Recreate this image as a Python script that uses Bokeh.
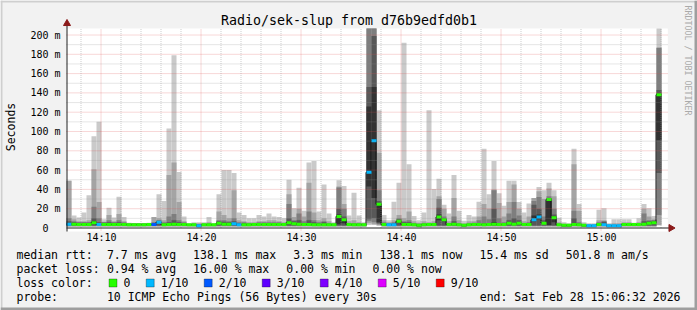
import math
from bokeh.plotting import figure
from bokeh.models import Range1d, Label, BoxAnnotation, ColumnDataSource
from bokeh.core.properties import value
from bokeh.embed import file_html
from bokeh.resources import INLINE

# ---------------- data ----------------
first_step = 6.5        # minutes after 14:00 -> 14:06:30
step_minutes = 0.5      # 30 s step

# sorted ping RTTs (ms) per step, p1 = fastest ... p10 = slowest
p1 = [1.0]*26 + [0.8] + [1.0]*33 + [3, 3, 2] + [1.0]*7 + [0.8] + [1.0]*8 + [0.8] + [1.0]*19 + [0.8, 0.8, 1.0, 1.0, 0.8, 0.8, 0.8, 1.0, 1.0, 0.8, 0.8, 0.8, 1.0, 1.0, 1.0, 1.0, 1.0, 1.0, 1.0, 2.5]
p2 = [1.5]*26 + [1.0] + [1.5]*33 + [5, 4, 3] + [1.5]*7 + [1.0] + [1.5]*8 + [1.0] + [1.5]*19 + [1.0, 1.0, 1.5, 1.5, 1.0, 1.0, 1.0, 1.5, 1.5, 1.0, 1.0, 1.0, 1.5, 1.5, 1.5, 1.5, 1.5, 1.5, 1.5, 3]
p3 = [2.0]*26 + [1.3] + [2.0]*33 + [7, 6, 4] + [2.0]*7 + [1.3] + [2.0]*8 + [1.3] + [2.0]*19 + [1.3, 1.3, 2.0, 2.0, 1.3, 1.3, 1.3, 2.0, 2.0, 1.3, 1.3, 1.3, 2.0, 2.0, 2.0, 2.0, 2.0, 2.0, 2.0, 13.5]
p4 = [2.5]*26 + [1.6] + [2.5]*33 + [9, 10, 5] + [2.5]*7 + [1.6] + [2.5]*8 + [1.6] + [2.5]*19 + [1.6, 1.6, 2.5, 2.5, 1.6, 1.6, 1.6, 2.5, 2.5, 1.6, 1.6, 1.6, 2.5, 2.5, 2.5, 2.5, 2.5, 2.5, 2.5, 57]
p5 = [3.6, 3.6, 3.2, 3.2, 3.2, 5.1, 3.2, 3.2, 3.2, 3.2,
      3.2, 3.1, 3.0, 3.0, 3.0, 3.0, 3.1, 3.1, 5.6, 3.0,
      3.2, 3.6, 3.2, 3.2, 2.9, 3.0, 1.9, 2.9, 2.9, 2.9,
      4.6, 3.6, 3.6, 4.1, 2.9, 2.9, 2.9, 3.1, 3.2, 3.1,
      3.2, 3.1, 3.1, 3.1, 5.1, 4.1, 3.6, 3.1, 3.2, 2.9,
      2.9, 2.9, 2.9, 2.9, 4, 5, 3.1, 2.9, 2.9, 2.9,
      43, 31, 6, 3.1, 2.9, 2.9, 6, 3.2, 3.2, 2.9,
      2.4, 2.9, 3.1, 3.1, 8, 7, 3.1, 3.6, 2.9, 2.4,
      2.9, 3.2, 3.1, 2.9, 3.1, 3.6, 3.1, 3.1, 4.6, 3.6,
      4.6, 3.1, 3.1, 7, 9, 4.6, 3, 6, 2.9, 2.4,
      2.4, 3.2, 2.9, 2.4, 1.9, 1.9, 3.2, 2.9, 1.9, 1.9,
      1.9, 3.1, 3.1, 3.1, 3.1, 3.6, 4.6, 5.1, 91]
p6 = [5, 4.4, 4, 4, 4, 7, 4, 4, 4, 4,
      4, 3.9, 3.8, 3.8, 3.8, 3.8, 3.9, 3.9, 6.4, 3.8,
      4, 4.4, 4, 4, 3.7, 3.8, 2.7, 3.7, 3.7, 3.7,
      5.4, 4.4, 4.4, 4.9, 3.7, 3.7, 3.7, 3.9, 4, 3.9,
      4, 3.9, 3.9, 3.9, 6.5, 4.9, 4.4, 3.9, 4, 3.7,
      3.7, 3.7, 3.7, 3.7, 14, 10, 3.9, 3.7, 3.7, 3.7,
      126, 146, 26, 3.9, 3.7, 3.7, 7.6, 4, 4, 3.7,
      3.2, 3.7, 3.9, 3.9, 14, 9.5, 3.9, 4.4, 3.7, 3.2,
      3.7, 4, 3.9, 3.7, 3.9, 6, 3.9, 3.9, 5.4, 4.4,
      5.5, 3.9, 3.9, 13, 14, 5.4, 30.5, 12, 3.7, 3.2,
      3.2, 4, 3.7, 3.2, 2.7, 2.7, 4, 3.7, 2.7, 2.7,
      2.7, 3.9, 3.9, 3.9, 3.9, 4.4, 5.4, 5.9, 139.5]
p7 = [7, 6, 5.5, 5.5, 5.5, 10, 6, 5.5, 6, 5.5,
      6, 5, 4.3, 4.3, 4.3, 4.3, 4.5, 5, 7.5, 5,
      6, 8, 6, 5, 4, 4.2, 3.5, 4, 4.2, 4,
      7, 6.5, 6, 7, 5, 5, 4.5, 4.5, 5, 4.8,
      5, 4.8, 4.8, 4.8, 10, 7, 8, 5, 8, 6,
      5, 6, 4.5, 4, 20, 12, 4.5, 4.5, 4.5, 4,
      146, 199, 28, 5, 4.5, 5, 9, 6, 6, 4.5,
      4, 4.5, 4.6, 4.6, 21, 10, 4.5, 7, 4, 3.5,
      4, 5, 5, 5, 5, 20, 5, 5, 8, 10,
      8, 4.5, 5, 24, 20, 8, 31, 14, 4, 3.5,
      3.4, 10, 4.5, 3.5, 3, 3, 5, 6.5, 3, 3,
      3, 4.5, 4.5, 4.4, 4.5, 7, 7, 7.5, 143]
p8 = [10, 7, 6, 6, 6, 22, 10, 6, 8, 6,
      8, 6, 4.5, 4.5, 4.5, 4.5, 4.7, 6, 8, 6,
      12, 14.5, 8, 6, 4.2, 4.5, 4, 4.5, 5, 4.2,
      8, 8, 7, 10, 6, 6, 5, 5, 6, 6,
      6, 6, 6, 5, 25, 8, 15, 7, 17, 8,
      6, 7, 5, 4.5, 42, 20, 5, 5, 5, 4.5,
      215, 215, 39, 6, 5, 6, 10, 7, 8, 5,
      4.5, 5, 5, 5, 30, 12, 5, 12, 5, 4,
      5, 5.5, 8, 12, 9, 39, 10, 6, 15, 27,
      13, 5, 6, 28, 32, 12, 33, 20, 4.5, 4,
      3.8, 18, 6, 4, 3.5, 3.5, 6, 7, 3.5, 3.5,
      3.5, 5, 5, 4.6, 5, 15, 8, 8, 186.8]
p9 = [49, 9, 7, 7, 8, 61, 27, 6.5, 13.5, 7,
      14.5, 7, 5, 4.8, 4.8, 4.8, 5, 11.5, 10, 8,
      55, 68, 27, 7, 4.5, 5, 5, 5, 6, 4.5,
      17, 13.5, 10, 39, 8, 7, 6, 6, 7, 7,
      8, 8, 7, 6, 35, 11.5, 20, 12, 47, 16,
      8, 10, 7, 5, 43, 25, 7, 8, 6, 5,
      215, 215, 78, 8, 6, 8, 13.5, 10, 17, 7,
      5.5, 7, 6, 7, 33, 20, 7, 31, 8, 5,
      7, 7, 12, 25, 20, 40, 26, 12, 27, 45,
      20, 7, 12, 31, 38, 30, 41, 33, 6, 4.5,
      4.2, 66, 18, 4.5, 4, 4, 8, 8, 4, 5,
      5, 6, 6, 5, 6, 20, 12, 9, 186.8]
p10 = [49, 13, 11, 16, 34, 95, 110, 9, 21, 11,
       32.5, 11.5, 5.5, 5, 5, 5, 5.5, 11.5, 35, 28,
       103, 179, 58, 12, 5, 6, 6, 6, 11.5, 5,
       35, 60, 60, 57, 16, 13.5, 10, 10, 13.5, 12,
       15, 12, 11.5, 10, 50, 20.5, 41.6, 18, 68, 69.5,
       17, 45, 15, 6, 49.5, 43.5, 13, 36.6, 13, 6,
       215, 215, 122, 13.5, 8, 27.3, 47, 192, 66, 12.5,
       8, 16, 122, 40.5, 51, 24, 15, 55, 18, 7.5,
       13.5, 12, 27.3, 82, 35, 69.5, 36, 23, 49, 49,
       27, 16, 25.4, 31, 42.5, 39, 47, 39, 10.5, 6,
       5, 82, 25, 6, 5, 5, 19, 20.5, 5, 9,
       9, 9, 9, 5.5, 10, 25, 20.5, 12.5, 215]
median = [4, 4, 3.6, 3.6, 3.6, 5.5, 3.6, 3.6, 3.6, 3.6,
          3.6, 3.5, 3.4, 3.4, 3.4, 3.4, 3.5, 3.5, 6, 3.4,
          3.6, 4, 3.6, 3.6, 3.3, 3.4, 2.3, 3.3, 3.3, 3.3,
          5, 4, 4, 4.5, 3.3, 3.3, 3.3, 3.5, 3.6, 3.5,
          3.6, 3.5, 3.5, 3.5, 5.5, 4.5, 4, 3.5, 3.6, 3.3,
          3.3, 3.3, 3.3, 3.3, 12, 8.5, 3.5, 3.3, 3.3, 3.3,
          57.7, 90.5, 24.5, 3.5, 3.3, 3.3, 7, 3.6, 3.6, 3.3,
          2.8, 3.3, 3.5, 3.5, 11.4, 8.5, 3.5, 4, 3.3, 2.8,
          3.3, 3.6, 3.5, 3.3, 3.5, 4, 3.5, 3.5, 5, 4,
          5, 3.5, 3.5, 8.5, 11.4, 5, 29.5, 10.5, 3.3, 2.8,
          2.8, 3.6, 3.3, 2.8, 2.3, 2.3, 3.6, 3.3, 2.3, 2.3,
          2.3, 3.5, 3.5, 3.5, 3.5, 4, 5, 5.5, 138.1]
loss = [1, 0, 0, 0, 0, 0, 1, 0, 0, 0,
        0, 0, 0, 0, 0, 0, 0, 2, 1, 0,
        0, 0, 0, 0, 0, 0, 1, 0, 0, 0,
        0, 0, 0, 1, 1, 0, 0, 0, 0, 0,
        0, 0, 0, 0, 0, 0, 0, 0, 0, 0,
        0, 0, 0, 0, 0, 0, 0, 0, 0, 0,
        1, 1, 0, 0, 1, 1, 0, 0, 0, 0,
        0, 0, 0, 0, 0, 0, 0, 0, 0, 0,
        0, 0, 0, 0, 0, 0, 0, 0, 0, 0,
        0, 0, 0, 1, 1, 0, 0, 0, 0, 0,
        0, 0, 0, 0, 1, 1, 0, 1, 1, 1,
        1, 0, 0, 0, 0, 0, 0, 0, 0]

y_ticks = [0, 20, 40, 60, 80, 100, 120, 140, 160, 180, 200]
y_tick_labels = ["0\u00a0\u00a0", "20 m", "40 m", "60 m", "80 m", "100 m", "120 m",
                 "140 m", "160 m", "180 m", "200 m"]
y_minor = [10, 30, 50, 70, 90, 110, 130, 150, 170, 190]
x_ticks = [10, 20, 30, 40, 50, 60]
x_tick_labels = ["14:10", "14:20", "14:30", "14:40", "14:50", "15:00"]
x_minor = [8, 12, 14, 16, 18, 22, 24, 26, 28, 32, 34, 36, 38, 42, 44, 46, 48,
           52, 54, 56, 58, 62, 64, 66]

loss_levels = [0, 1, 2, 3, 4, 5, 9]
loss_labels = ["0", "1/10", "2/10", "3/10", "4/10", "5/10", "9/10"]
loss_colors = ["#26ff00", "#00b8ff", "#0059ff", "#5e00ff", "#7e00ff", "#dd00ff", "#ff0000"]
smoke_colors = ["#cacaca", "#a4a4a4", "#7e7e7e", "#585858", "#323232"]

title_text = "Radio/sek-slup from d76b9edfd0b1"
stats_line1 = [("median rtt:", 16), ("7.7 ms avg", 106.4), ("138.1 ms max", 192.6),
               ("3.3 ms min", 292.7), ("138.1 ms now", 378.9), ("15.4 ms sd", 479.0),
               ("501.8 m am/s", 565.2)]
stats_line2 = [("packet loss:", 16), ("0.94 % avg", 106.4), ("16.00 % max", 192.6),
               ("0.00 % min", 285.8), ("0.00 % now", 372.0)]
probe_text = "10 ICMP Echo Pings (56 Bytes) every 30s"
end_text = "end: Sat Feb 28 15:06:32 2026"

# ---------------- layout / style ----------------
W, H = 697, 310
FL = 66                 # left edge of graph canvas (px)
PX_MIN = 10.0           # pixels per minute
PX_MS = 0.965           # pixels per ms
ZERO_PX = 227.5         # pixel row of value 0
HALF = 0.5 / PX_MIN
TXT_SHIFT = 4.0         # svg text baseline correction (px)
BACK = "#f2f2f2"
FONT = "DejaVu Sans Mono"


def xv(px):
    return first_step + (px - FL) / PX_MIN


def yv(py):
    return (ZERO_PX - py) / PX_MS


p = figure(width=W, height=H, x_range=Range1d(xv(0), xv(W)), y_range=Range1d(yv(H), yv(0)),
           output_backend="svg", toolbar_location=None, title=None,
           x_axis_location=None, y_axis_location=None, min_border=0)
p.background_fill_color = BACK
p.border_fill_color = BACK
p.outline_line_color = None
p.xgrid.visible = False
p.ygrid.visible = False

canvas_top = yv(28)
# white graph canvas
p.quad(left=[xv(FL)], right=[xv(667.3)], bottom=[yv(231)], top=[canvas_top],
       fill_color="#ffffff", line_color=None)

n = len(median)
lefts = [first_step + step_minutes * i for i in range(n)]
rights = [l + step_minutes for l in lefts]
pings = [p1, p2, p3, p4, p5, p6, p7, p8, p9, p10]

for i, col in enumerate(smoke_colors):
    lo = pings[i]
    hi = pings[9 - i]
    src = ColumnDataSource(dict(left=lefts, right=rights,
                                bottom=[min(v, canvas_top) for v in lo],
                                top=[min(v, canvas_top) for v in hi]))
    p.quad(left="left", right="right", bottom="bottom", top="top", source=src,
           fill_color=col, line_color=None)

# median step line
p.step([x - HALF for x in lefts] + [rights[-1] - HALF], median + [median[-1]], mode="after",
       line_color="#141414", line_width=1)

# median band coloured by loss
cmap = dict(zip(loss_levels, loss_colors))
sw = 1.5 / PX_MS
msrc = ColumnDataSource(dict(left=lefts, right=rights,
                             bottom=[m - sw for m in median], top=[m + sw for m in median],
                             color=[cmap[l] for l in loss]))
p.quad(left="left", right="right", bottom="bottom", top="top", source=msrc,
       fill_color="color", line_color=None)

# grid (drawn on top like rrdtool)
gx0, gx1 = xv(FL), xv(668)
GRID, MGRID = "#8f8f8f", "#de4f4f"
GA, MA = 0.45, 0.45
p.segment(x0=[gx0] * len(y_minor), y0=y_minor, x1=[gx1] * len(y_minor), y1=y_minor,
          line_color=GRID, line_alpha=GA, line_dash="1 1", line_width=1)
ymaj = y_ticks[1:]
p.segment(x0=[gx0] * len(ymaj), y0=ymaj, x1=[gx1] * len(ymaj), y1=ymaj,
          line_color=MGRID, line_alpha=MA, line_dash="1 1", line_width=1)
p.segment(x0=[x - HALF for x in x_minor], y0=[0] * len(x_minor),
          x1=[x - HALF for x in x_minor], y1=[canvas_top] * len(x_minor),
          line_color=GRID, line_alpha=GA, line_dash="1 1", line_width=1)
p.segment(x0=[x - HALF for x in x_ticks], y0=[yv(230)] * len(x_ticks),
          x1=[x - HALF for x in x_ticks], y1=[canvas_top] * len(x_ticks),
          line_color=MGRID, line_alpha=MA, line_dash="1 1", line_width=1)

# axes lines + arrows
AXIS, ARROW = "#1f1f1f", "#8b1a1a"
p.segment(x0=[xv(FL)], y0=[0], x1=[xv(669)], y1=[0], line_color=AXIS, line_width=1)
p.segment(x0=[xv(66.5)], y0=[yv(231)], x1=[xv(66.5)], y1=[yv(24)], line_color=AXIS, line_width=1)
p.scatter(x=[xv(670.5)], y=[0], marker="triangle", size=7, angle=-math.pi / 2,
          fill_color=ARROW, line_color=ARROW)
p.scatter(x=[xv(66.5)], y=[yv(23)], marker="triangle", size=7,
          fill_color=ARROW, line_color=ARROW)

# tick labels through the data scales
p.text(x=[xv(60)] * len(y_ticks), y=y_ticks, text=y_tick_labels, text_align="right",
       text_baseline="alphabetic", y_offset=4 - TXT_SHIFT, text_font=value(FONT),
       text_font_size="10px", text_color="#000000")
p.text(x=x_ticks, y=[yv(240.5 - TXT_SHIFT)] * len(x_ticks), text=x_tick_labels,
       text_align="center", text_baseline="alphabetic", text_font=value(FONT),
       text_font_size="10px", text_color="#000000")


def txt(x, y, s, size="11.5px", align="left", baseline="alphabetic", angle=0.0,
        color="#000000", shift=True):
    p.add_layout(Label(x=x, y=y - (TXT_SHIFT if shift else 0), x_units="canvas", y_units="canvas",
                       text=s, text_font=FONT, text_font_size=size, text_align=align,
                       text_baseline=baseline, angle=angle, text_color=color))


def box(l, r, t, b, color, line=None):
    p.add_layout(BoxAnnotation(left=l, right=r, top=t, bottom=b, left_units="canvas",
                               right_units="canvas", top_units="canvas", bottom_units="canvas",
                               fill_color=color, fill_alpha=1.0,
                               line_color=line, line_width=1 if line else 0))


# frame shading
box(0, W, 0, 2, "#cfcfcf")
box(0, 2, 0, H, "#cfcfcf")
box(0, W, 307, H, "#9e9e9e")
box(694, W, 0, H, "#9e9e9e")

txt(348.5, 23.5, title_text, size="13.3px", align="center")
txt(10.5, 126.5, "Seconds", angle=math.pi / 2, align="center", baseline="middle", shift=False)
txt(687.5, 60, "RRDTOOL / TOBI OETIKER", size="8.3px", angle=-math.pi / 2, align="center",
    baseline="middle", color="#aaaaaa", shift=False)

for s, x in stats_line1:
    txt(x, 258.3, s)
for s, x in stats_line2:
    txt(x, 272.2, s)
txt(16, 286.1, "loss color:")
box_x = [108.5, 145.7, 203.7, 261.7, 319.7, 377.7, 435.7]
for bx, lab, col in zip(box_x, loss_labels, loss_colors):
    box(bx, bx + 8, 278.5, 286.5, col, "#000000")
    txt(bx + 14.6, 286.1, lab)
txt(16, 300.0, "probe:")
txt(106.4, 300.0, probe_text)
txt(680, 300.0, end_text, align="right")

open("out.html", "w").write(file_html(p, INLINE))
